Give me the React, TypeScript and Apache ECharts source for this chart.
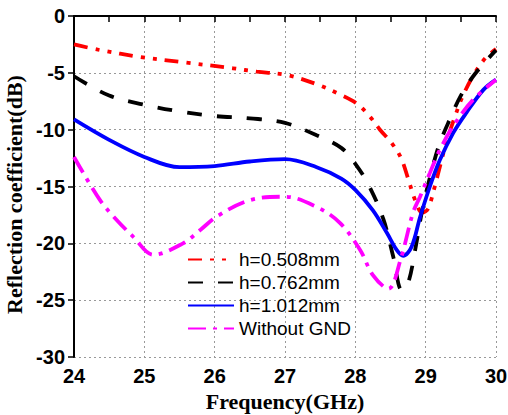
import React, { useEffect, useRef } from "react";
import * as echarts from "echarts";

// Reflection coefficient (dB) versus frequency (GHz) for each substrate height
const freq508 = [24, 24.37, 24.94, 25.6, 26.26, 26.6, 27.03, 27.45, 27.78, 28.02, 28.2, 28.35, 28.52, 28.65, 28.75, 28.85, 28.95, 29.03, 29.13, 29.2, 29.3, 29.42, 29.53, 29.7, 29.85, 30];
const s11_508 = [-2.5, -3.0, -3.6, -4.1, -4.6, -4.9, -5.2, -6.0, -6.9, -7.7, -8.8, -10.0, -11.2, -12.5, -14.3, -16.2, -17.3, -17.0, -15.0, -13.3, -11.0, -8.8, -7.0, -5.0, -3.7, -2.9];

const freq762 = [24, 24.5, 25, 25.5, 26, 26.5, 27, 27.45, 27.8, 28.0, 28.2, 28.4, 28.54, 28.66, 28.75, 28.85, 28.96, 29.09, 29.2, 29.35, 29.5, 29.7, 30];
const s11_762 = [-5.3, -7.0, -7.8, -8.4, -8.8, -9.0, -9.4, -10.5, -11.6, -13.0, -15.0, -17.9, -21.2, -24.1, -23.5, -20.6, -16.8, -13.5, -11.2, -9.0, -7.0, -5.1, -3.0];

const freq1012 = [24, 24.5, 25, 25.5, 26, 26.5, 27, 27.45, 27.8, 28.0, 28.25, 28.45, 28.59, 28.68, 28.8, 28.92, 29.06, 29.2, 29.39, 29.58, 29.82, 30];
const s11_1012 = [-9.1, -10.9, -12.4, -13.3, -13.2, -12.8, -12.6, -13.3, -14.3, -15.3, -17.1, -19.1, -20.6, -21.1, -20.3, -17.7, -15.0, -12.7, -10.3, -8.5, -6.5, -5.6];

const freqNoGnd = [24, 24.37, 24.6, 24.84, 25.13, 25.55, 25.8, 26.04, 26.5, 27.0, 27.45, 27.78, 28.07, 28.25, 28.47, 28.64, 28.82, 28.92, 29.06, 29.2, 29.39, 29.67, 30];
const s11NoGnd = [-12.4, -16.2, -17.9, -19.4, -21.0, -20.0, -18.8, -17.6, -16.2, -15.9, -16.8, -18.2, -20.6, -22.8, -24.0, -21.5, -17.3, -15.9, -13.8, -11.8, -9.7, -7.4, -5.6];

const seriesNames = ["h=0.508mm", "h=0.762mm", "h=1.012mm", "Without GND"];
const xTicks = [24, 25, 26, 27, 28, 29, 30];

const pair = (xs: number[], ys: number[]) => xs.map((x, i) => [x, ys[i]]);

export default function App() {
  const ref = useRef<HTMLDivElement>(null);

  useEffect(() => {
    if (!ref.current) return;
    const chart = echarts.init(ref.current, null, { renderer: "svg" });
    const serifBold = {
      fontFamily: "Liberation Serif",
      fontWeight: "bold" as const,
      fontSize: 22,
      color: "#000",
    };
    const tickLabel = {
      fontFamily: "Liberation Sans",
      fontWeight: "bold" as const,
      fontSize: 20,
      color: "#000",
      margin: 9,
    };
    const line = (name: string, data: number[][], color: string, dash: any) => ({
      name,
      type: "line",
      data,
      smooth: 0.35,
      symbol: "none",
      lineStyle: { color, width: 3.8, type: dash },
      itemStyle: { color },
    });
    chart.setOption({
      animation: false,
      backgroundColor: "#fff",
      grid: { left: 74, right: 12, top: 16, bottom: 58, outerBoundsMode: "none", containLabel: false },
      legend: {
        orient: "vertical",
        left: 187,
        top: 250,
        padding: 0,
        itemWidth: 46,
        itemHeight: 10,
        itemGap: 4,
        itemStyle: { opacity: 0 },
        textStyle: { fontFamily: "Liberation Sans", fontSize: 19, color: "#000" },
        data: seriesNames,
      },
      xAxis: {
        type: "value",
        min: xTicks[0],
        max: xTicks[xTicks.length - 1],
        interval: 1,
        name: "Frequency(GHz)",
        nameLocation: "middle",
        nameGap: 33,
        nameTextStyle: serifBold,
        axisLine: { show: true, lineStyle: { color: "#000", width: 2 } },
        axisTick: { show: true, length: 6, lineStyle: { color: "#000", width: 1.5 } },
        minorTick: { show: true, splitNumber: 2, length: 6, lineStyle: { color: "#000", width: 1.5 } },
        axisLabel: tickLabel,
        splitLine: { show: true, lineStyle: { color: "#999", width: 1, type: [2, 3] } },
      },
      yAxis: {
        type: "value",
        min: -30,
        max: 0,
        interval: 5,
        name: "Reflection coefficient(dB)",
        nameLocation: "middle",
        nameGap: 40,
        nameTextStyle: { ...serifBold, padding: [0, 16, 0, 0] },
        axisLine: { show: true, lineStyle: { color: "#000", width: 2 } },
        axisTick: { show: true, length: 6, lineStyle: { color: "#000", width: 1.5 } },
        axisLabel: tickLabel,
        splitLine: { show: true, lineStyle: { color: "#999", width: 1, type: [2, 3] } },
      },
      series: [
        line(seriesNames[0], pair(freq508, s11_508), "#ff0000", [14, 8, 4, 8, 4, 8]),
        line(seriesNames[1], pair(freq762, s11_762), "#000000", [15, 15]),
        line(seriesNames[2], pair(freq1012, s11_1012), "#0000ff", "solid"),
        line(seriesNames[3], pair(freqNoGnd, s11NoGnd), "#ff00ff", [18, 7, 4, 7]),
      ],
    });
    return () => chart.dispose();
  }, []);

  return (
    <div
      ref={ref}
      style={{ position: "fixed", left: 0, top: 0, width: 508, height: 415, background: "#fff" }}
    />
  );
}
